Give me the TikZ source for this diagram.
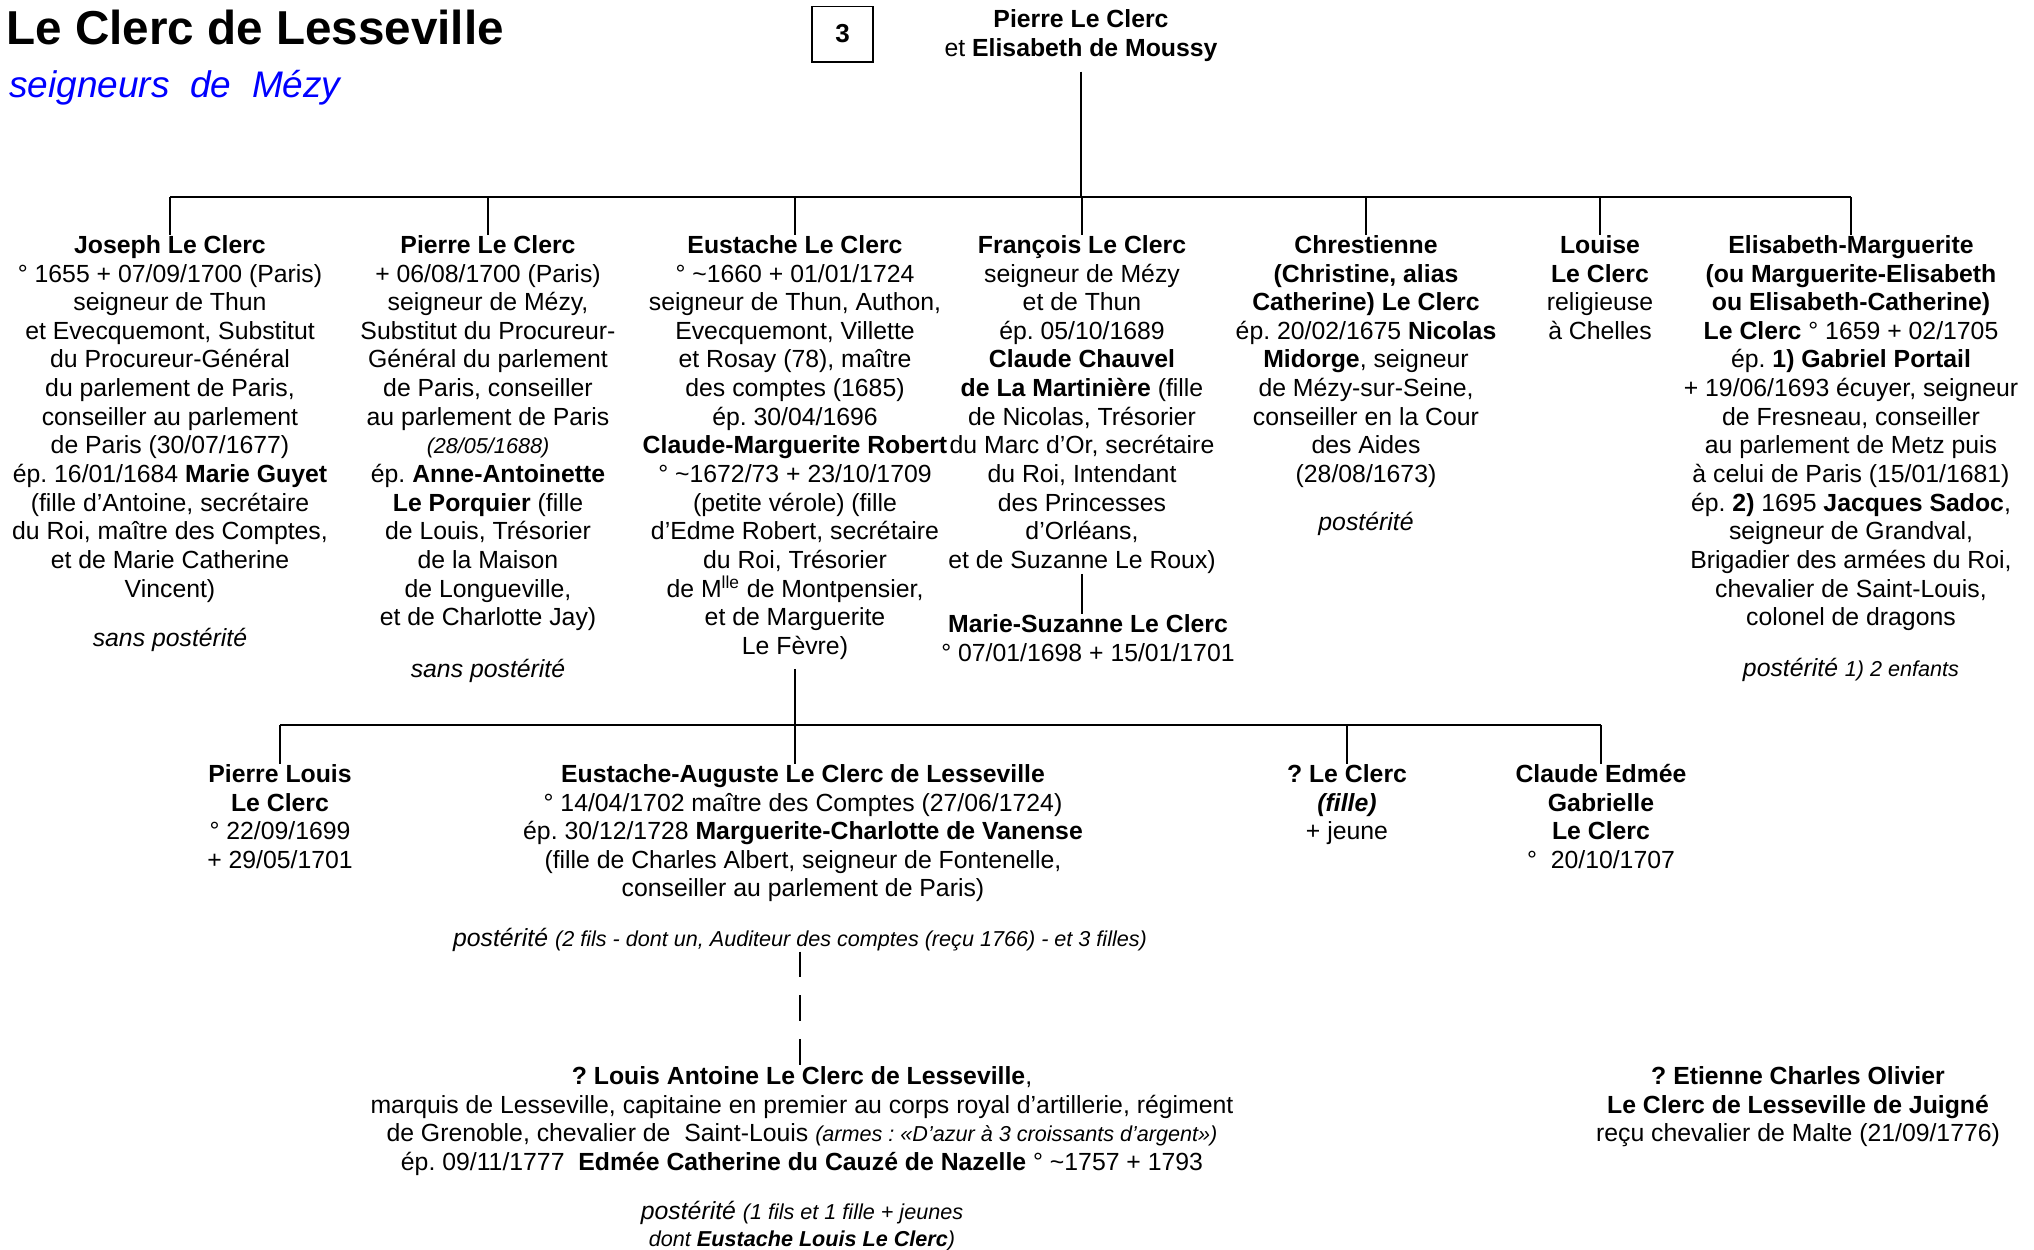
\documentclass[tikz,border=0pt]{standalone}
\usepackage{fontspec}
\setmainfont{Liberation Sans}
\usepackage{xcolor}
\usepackage{tikz}
\frenchspacing
\newcommand{\txtsize}{\fontsize{12.4}{14.32}\selectfont}
\newcommand{\notesize}{\fontsize{10.8}{13.6}\selectfont}
\definecolor{subblue}{RGB}{0,0,255}

\begin{document}
\begin{tikzpicture}[x=0.5pt,y=-0.5pt,
	person/.style={align=center,inner sep=0pt,anchor=north,font=\txtsize},
	remark/.style={inner sep=0pt,anchor=base,font=\txtsize\itshape},
	link/.style={line width=1pt}]
	\useasboundingbox (0,0) rectangle (2034,1249);
	%
	%  HEADER
	%
	\node[inner sep=0pt,anchor=base west,font=\fontsize{23.8}{28}\selectfont\bfseries] (title) at (6,44) {Le Clerc de Lesseville};
	\node[inner sep=0pt,anchor=base west,font=\fontsize{18.5}{22}\selectfont\itshape,text=subblue] (subtitle) at (9,97) {seigneurs\ \ de\ \ Mézy};
	\node[draw,line width=0.8pt,minimum width=30.5pt,minimum height=27.7pt,inner sep=0pt,font=\fontsize{13}{15}\selectfont\bfseries] (num) at (842.5,34) {3};
	\node[person] (parents) at (1081,9) {\textbf{Pierre Le Clerc}\\et \textbf{Elisabeth de Moussy}};
	\coordinate (bar1) at (0,197);
	\coordinate (bar2) at (0,725);
	%
	%  CHILDREN
	%
	\node[person] (joseph) at (170,235) {\textbf{Joseph Le Clerc}\\
		° 1655 + 07/09/1700 (Paris)\\
		seigneur de Thun\\
		et Evecquemont, Substitut\\
		du Procureur-Général\\
		du parlement de Paris,\\
		conseiller au parlement\\
		de Paris (30/07/1677)\\
		ép. 16/01/1684 \textbf{Marie Guyet}\\
		(fille d’Antoine, secrétaire\\
		du Roi, maître des Comptes,\\
		et de Marie Catherine\\
		Vincent)};
	\node[remark] (josephpost) at (170,646) {sans postérité};
	\node[person] (pierre) at (488,235) {\textbf{Pierre Le Clerc}\\
		+ 06/08/1700 (Paris)\\
		seigneur de Mézy,\\
		Substitut du Procureur-\\
		Général du parlement\\
		de Paris, conseiller\\
		au parlement de Paris\\
		{\notesize\itshape (28/05/1688)}\\
		ép. \textbf{Anne-Antoinette}\\
		\textbf{Le Porquier} (fille\\
		de Louis, Trésorier\\
		de la Maison\\
		de Longueville,\\
		et de Charlotte Jay)};
	\node[remark] (pierrepost) at (488,677) {sans postérité};
	\node[person] (eustache) at (795,235) {\textbf{Eustache Le Clerc}\\
		° \textasciitilde1660 + 01/01/1724\\
		seigneur de Thun, Authon,\\
		Evecquemont, Villette\\
		et Rosay (78), maître\\
		des comptes (1685)\\
		ép. 30/04/1696\\
		\textbf{Claude-Marguerite Robert}\\
		° \textasciitilde1672/73 + 23/10/1709\\
		(petite vérole) (fille\\
		d’Edme Robert, secrétaire\\
		du Roi, Trésorier\\
		de M\textsuperscript{lle} de Montpensier,\\
		et de Marguerite\\
		Le Fèvre)};
	\node[person] (francois) at (1082,235) {\textbf{François Le Clerc}\\
		seigneur de Mézy\\
		et de Thun\\
		ép. 05/10/1689\\
		\textbf{Claude Chauvel}\\
		\textbf{de La Martinière} (fille\\
		de Nicolas, Trésorier\\
		du Marc d’Or, secrétaire\\
		du Roi, Intendant\\
		des Princesses\\
		d’Orléans,\\
		et de Suzanne Le Roux)};
	\node[person] (marie) at (1088,614) {\textbf{Marie-Suzanne Le Clerc}\\
		° 07/01/1698 + 15/01/1701};
	\node[person] (chrestienne) at (1366,235) {\textbf{Chrestienne}\\
		\textbf{(Christine, alias}\\
		\textbf{Catherine) Le Clerc}\\
		ép. 20/02/1675 \textbf{Nicolas}\\
		\textbf{Midorge}, seigneur\\
		de Mézy-sur-Seine,\\
		conseiller en la Cour\\
		des Aides\\
		(28/08/1673)};
	\node[remark] (chrpost) at (1366,530.5) {postérité};
	\node[person] (louise) at (1600,235) {\textbf{Louise}\\\textbf{Le Clerc}\\religieuse\\à Chelles};
	\node[person] (elisabeth) at (1851,235) {\textbf{Elisabeth-Marguerite}\\
		\textbf{(ou Marguerite-Elisabeth}\\
		\textbf{ou Elisabeth-Catherine)}\\
		\textbf{Le Clerc} ° 1659 + 02/1705\\
		ép. \textbf{1) Gabriel Portail}\\
		+ 19/06/1693 écuyer, seigneur\\
		de Fresneau, conseiller\\
		au parlement de Metz puis\\
		à celui de Paris (15/01/1681)\\
		ép. \textbf{2)} 1695 \textbf{Jacques Sadoc},\\
		seigneur de Grandval,\\
		Brigadier des armées du Roi,\\
		chevalier de Saint-Louis,\\
		colonel de dragons};
	\node[remark] (elipost) at (1851,676) {postérité {\notesize 1) 2 enfants}};
	%
	%  GRANDCHILDREN
	%
	\node[person] (plouis) at (280,764) {\textbf{Pierre Louis}\\\textbf{Le Clerc}\\° 22/09/1699\\+ 29/05/1701};
	\node[person] (auguste) at (803,764) {\textbf{Eustache-Auguste Le Clerc de Lesseville}\\
		° 14/04/1702 maître des Comptes (27/06/1724)\\
		ép. 30/12/1728 \textbf{Marguerite-Charlotte de Vanense}\\
		(fille de Charles Albert, seigneur de Fontenelle,\\
		conseiller au parlement de Paris)};
	\node[remark] (augpost) at (800,946) {postérité {\notesize (2 fils - dont un, Auditeur des comptes (reçu 1766) - et 3 filles)}};
	\node[person] (fille) at (1347,764) {\textbf{? Le Clerc}\\\textbf{\textit{(fille)}}\\+ jeune};
	\node[person] (claude) at (1601,764) {\textbf{Claude Edmée}\\\textbf{Gabrielle}\\\textbf{Le Clerc}\\°\ \ 20/10/1707};
	%
	\node[person] (louis) at (802,1066) {\textbf{? Louis Antoine Le Clerc de Lesseville},\\
		marquis de Lesseville, capitaine en premier au corps royal d’artillerie, régiment\\
		de Grenoble, chevalier de\ \ Saint-Louis {\notesize\itshape (armes : «D’azur à 3 croissants d’argent»)}\\
		ép. 09/11/1777\ \ \textbf{Edmée Catherine du Cauzé de Nazelle} ° \textasciitilde1757 + 1793};
	\node[person,font=\txtsize\itshape] (louispost) at (802,1201) {postérité {\notesize (1 fils et 1 fille + jeunes}\\[-0.7pt]
		{\notesize dont \textbf{Eustache Louis Le Clerc})}};
	\node[person] (etienne) at (1798,1066) {\textbf{? Etienne Charles Olivier}\\
		\textbf{Le Clerc de Lesseville de Juigné}\\
		reçu chevalier de Malte (21/09/1776)};
	%
	%  LINKS
	%
	\path[link]
	(parents.south) edge[shorten <=5pt] (parents.south |- bar1)
	(joseph.north |- bar1) edge (elisabeth.north |- bar1)
	(joseph.north |- bar1) edge (joseph.north)
	(pierre.north |- bar1) edge (pierre.north)
	(eustache.north |- bar1) edge (eustache.north)
	(francois.north |- bar1) edge (francois.north)
	(chrestienne.north |- bar1) edge (chrestienne.north)
	(louise.north |- bar1) edge (louise.north)
	(elisabeth.north |- bar1) edge (elisabeth.north)
	(francois.south) edge (francois.south |- marie.north)
	(eustache.south) edge[shorten <=4.5pt] (eustache.south |- auguste.north)
	(plouis.north |- bar2) edge (claude.north |- bar2)
	(plouis.north |- bar2) edge (plouis.north)
	(fille.north |- bar2) edge (fille.north)
	(claude.north |- bar2) edge (claude.north)
	(augpost.south) edge[dash pattern=on 12.9pt off 8.9pt] (augpost.south |- louis.north);
\end{tikzpicture}
\end{document}
